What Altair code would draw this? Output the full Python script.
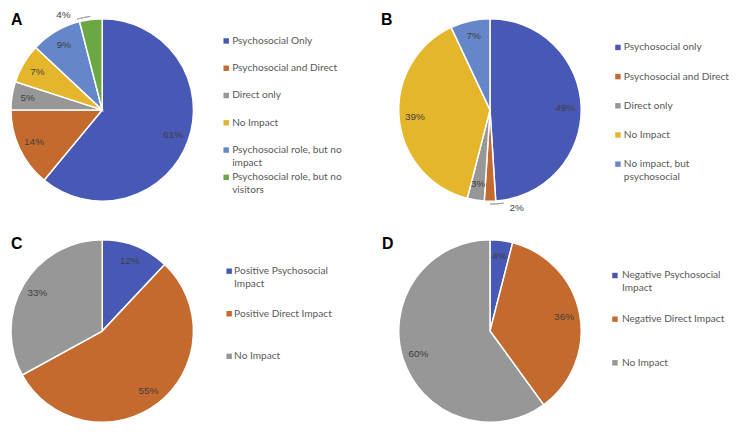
import textwrap
import altair as alt
import pandas as pd

# ---- data ----
A_labels = ["Psychosocial Only", "Psychosocial and Direct", "Direct only", "No Impact",
            "Psychosocial role, but no impact", "Psychosocial role, but no visitors"]
A_values = [61, 14, 5, 7, 9, 4]
B_labels = ["Psychosocial only", "Psychosocial and Direct", "Direct only", "No Impact",
            "No impact, but psychosocial"]
B_values = [49, 2, 3, 39, 7]
C_labels = ["Positive Psychosocial Impact", "Positive Direct Impact", "No Impact"]
C_values = [12, 55, 33]
D_labels = ["Negative Psychosocial Impact", "Negative Direct Impact", "No Impact"]
D_values = [4, 36, 60]

BLUE, ORANGE, GRAY, YELLOW, LBLUE, GREEN = "#4759B5", "#C56A2F", "#979797", "#E5B62B", "#6587C9", "#6BA843"
A_colors = [BLUE, ORANGE, GRAY, YELLOW, LBLUE, GREEN]
B_colors = [BLUE, ORANGE, GRAY, YELLOW, LBLUE]
C_colors = [BLUE, ORANGE, GRAY]
D_colors = [BLUE, ORANGE, GRAY]

# slices whose percentage label sits outside the pie with a leader line
A_outside = ["Psychosocial role, but no visitors"]
B_outside = ["Psychosocial and Direct"]

# ---- style / layout ----
PW, PH = 360, 208          # each panel (quadrant)
R = 92                     # pie radius
R_IN = 76                  # inside label radius
R_OUT = 103                # outside label radius
OUT_SHIFT = -4.2           # outside labels shifted counter-clockwise (in % of pie)
LEG_FONT = "Lato"
LAB_FONT = "Liberation Sans"


def wrap(lab):
    return "|".join(textwrap.wrap(lab, 25))


def panel(letter, labels, values, colors, outside, cx, cy, lx, ly, sq_x, tx_x, rows):
    total = sum(values)
    df = pd.DataFrame({
        "cat": labels,
        "value": values,
        "idx": list(range(len(labels))),
        "wrapped": [wrap(l) for l in labels],
        "out": [1 if l in outside else 0 for l in labels],
    })
    tscale = alt.Scale(domain=[0, total])
    cscale = alt.Scale(domain=labels, range=colors)
    base = alt.Chart(df)

    arcs = base.mark_arc(outerRadius=R, stroke="white", strokeWidth=1.5).encode(
        theta=alt.Theta("value:Q", stack=True, scale=tscale),
        order=alt.Order("idx:Q"),
        color=alt.Color("cat:N", scale=cscale, legend=None),
        x=alt.value(cx), y=alt.value(cy),
    )

    lab = base.transform_window(
        cum="sum(value)", sort=[alt.SortField("idx")], frame=[None, 0]
    ).transform_calculate(
        mid=f"datum.cum - datum.value / 2 + (datum.out ? {OUT_SHIFT} : 0)",
        slice_mid="datum.cum - datum.value / 2",
        lr=f"datum.out ? {R_OUT} : {R_IN}",
        pct="datum.value + '%'",
    )
    text = lab.mark_text(font=LAB_FONT, fontSize=10, color="#404040").encode(
        theta=alt.Theta("mid:Q", stack=False, scale=tscale),
        radius=alt.Radius("lr:Q", scale=None),
        text="pct:N",
        x=alt.value(cx), y=alt.value(cy),
    )
    layers = [arcs, text]
    if outside:
        leader = lab.transform_filter("datum.out == 1").transform_calculate(
            t1=f"datum.slice_mid + {OUT_SHIFT} * 0.55",
        ).mark_arc(radius=R + 3, radius2=R + 3, fill=None, stroke="#A6A6A6",
                   strokeWidth=1).encode(
            theta=alt.Theta("t1:Q", stack=False, scale=tscale),
            theta2=alt.Theta2("slice_mid:Q"),
            x=alt.value(cx), y=alt.value(cy),
        )
        layers.append(leader)

    yscale = alt.Scale(type="point", domain=labels, range=rows, padding=0)
    squares = base.mark_square(size=30, opacity=1).encode(
        x=alt.value(sq_x),
        y=alt.Y("cat:N", scale=yscale, axis=None),
        color=alt.Color("cat:N", scale=cscale, legend=None),
    )
    legtext = base.mark_text(
        font=LEG_FONT, fontSize=10.2, color="#595959", align="left",
        baseline="middle", lineBreak="|", lineHeight=13,
    ).encode(
        x=alt.value(tx_x),
        y=alt.Y("cat:N", scale=yscale, axis=None),
        text="wrapped:N",
    )
    let = alt.Chart(pd.DataFrame({"t": [letter]})).mark_text(
        font="Liberation Sans", fontSize=16, fontWeight="bold", color="black",
        align="left", baseline="alphabetic",
    ).encode(text="t:N", x=alt.value(lx), y=alt.value(ly))
    layers += [squares, legtext, let]
    return alt.layer(*layers).properties(width=PW, height=PH)


pA = panel("A", A_labels, A_values, A_colors, A_outside, 92, 101, 0, 15, 217, 223, [31.5, 169])
pB = panel("B", B_labels, B_values, B_colors, B_outside, 123, 101, 13, 15, 252, 258, [38, 155.7])
pC = panel("C", C_labels, C_values, C_colors, [], 92, 116, 0, 33.6, 220, 225, [55.6, 141.5])
pD = panel("D", D_labels, D_values, D_colors, [], 123, 116, 14, 33.6, 249, 256, [60, 148])

IND = dict(color="independent", y="independent", theta="independent")

top = alt.hconcat(pA, pB, spacing=0).resolve_scale(**IND)
bottom = alt.hconcat(pC, pD, spacing=0).resolve_scale(**IND)

chart = alt.vconcat(top, bottom, spacing=0).resolve_scale(**IND).configure_view(
    stroke=None
).properties(padding={"left": 0, "top": 0, "right": 0, "bottom": 0})

chart.save("out.html", embed_options={"renderer": "svg", "actions": False})
